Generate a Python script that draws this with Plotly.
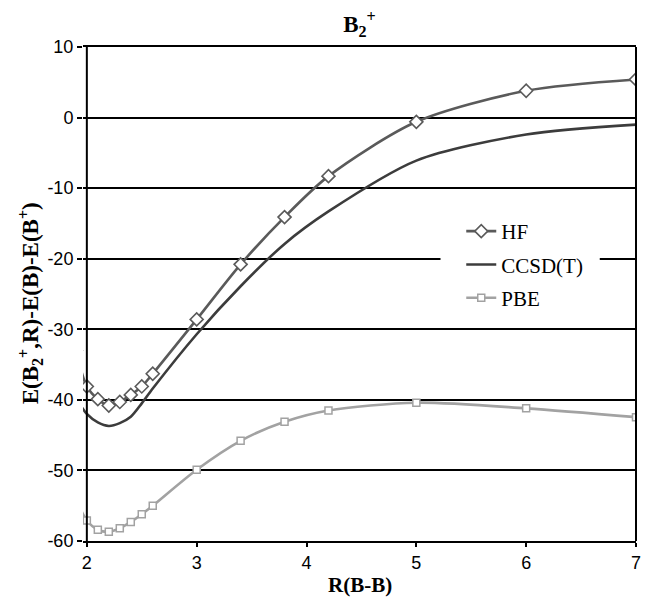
import plotly.graph_objects as go

# Bond length R(B-B) and relative energies for the three methods
r = [1.9, 2.0, 2.1, 2.2, 2.3, 2.4, 2.5, 2.6, 3.0, 3.4, 3.8, 4.2, 5.0, 6.0, 7.0]
hf = [-33.0, -38.1, -39.9, -40.8, -40.3, -39.3, -38.1, -36.3, -28.6, -20.8, -14.1, -8.3, -0.6, 3.8, 5.4]
ccsd_t = [-39.7, -42.0, -43.2, -43.7, -43.3, -42.4, -40.5, -38.4, -30.7, -23.9, -17.9, -13.3, -6.1, -2.4, -1.0]
pbe = [-54.0, -57.1, -58.4, -58.7, -58.2, -57.3, -56.2, -55.0, -49.9, -45.8, -43.1, -41.5, -40.4, -41.2, -42.45]

x_ticks = [2, 3, 4, 5, 6, 7]
y_ticks = [-60, -50, -40, -30, -20, -10, 0, 10]

SERIF = "Liberation Serif, Times New Roman, serif"
SANS = "Liberation Sans, Arial, sans-serif"

fig = go.Figure()

fig.add_trace(go.Scatter(
    x=r, y=hf, name="HF", mode="lines+markers",
    line=dict(color="#5a5a5a", width=2.6, shape="spline", smoothing=0.8),
    marker=dict(symbol="diamond", size=10, color="white",
                line=dict(color="#5a5a5a", width=1.6)),
    legendgroup="a",
))
fig.add_trace(go.Scatter(
    x=r, y=ccsd_t, name="CCSD(T)", mode="lines",
    line=dict(color="#3c3c3c", width=2.6, shape="spline", smoothing=0.8),
    legendgroup="b",
))
fig.add_trace(go.Scatter(
    x=r, y=pbe, name="PBE", mode="lines+markers",
    line=dict(color="#a2a2a2", width=2.6, shape="spline", smoothing=0.8),
    marker=dict(symbol="square", size=7, color="white",
                line=dict(color="#a2a2a2", width=1.5)),
    legendgroup="c",
))

shapes = [
    # white patch behind the legend, over the gridlines
    dict(type="rect", xref="x", yref="y", x0=5.22, x1=6.67, y0=-27.5, y1=-12.5,
         fillcolor="white", line=dict(width=0), layer="between"),
    # value axis drawn at R = 2
    dict(type="line", xref="x", yref="paper", x0=2, x1=2, y0=0, y1=1,
         line=dict(color="black", width=2)),
    # right frame edge
    dict(type="line", xref="paper", yref="paper", x0=1, x1=1, y0=0, y1=1,
         line=dict(color="black", width=2)),
]

fig.update_layout(
    width=647, height=598,
    margin=dict(l=83, r=6, t=47, b=57),
    paper_bgcolor="white", plot_bgcolor="white",
    title=dict(text="<b>B<sub>2</sub><sup>+</sup></b>", x=0.5, xref="paper",
               y=1 - 24 / 598, yref="container", yanchor="middle",
               font=dict(family=SERIF, size=23, color="black")),
    showlegend=True,
    legend=dict(x=0.684, y=0.668, xanchor="left", yanchor="top",
                bgcolor="rgba(0,0,0,0)", borderwidth=0,
                traceorder="grouped", tracegroupgap=3,
                font=dict(family=SERIF, size=21, color="black")),
    shapes=shapes,
    annotations=[
        dict(text="<b>R(B-B)</b>", xref="paper", yref="paper", x=0.5, y=0,
             yshift=-44, xanchor="center", yanchor="middle", showarrow=False,
             font=dict(family=SERIF, size=21, color="black")),
        dict(text="<b>E(B<sub>2</sub><sup>+</sup>,R)-E(B)-E(B<sup>+</sup>)</b>",
             xref="paper", yref="paper", x=-0.095, y=0.482, textangle=-90,
             xanchor="center", yanchor="middle", showarrow=False,
             font=dict(family=SERIF, size=23, color="black")),
    ],
)

fig.update_xaxes(
    range=[1.965, 7.0], tickvals=x_ticks, ticktext=[str(v) for v in x_ticks],
    showgrid=False, zeroline=False,
    showline=True, mirror=True, linecolor="black", linewidth=2,
    ticks="outside", ticklen=4, tickwidth=1.5, tickcolor="black",
    tickfont=dict(family=SANS, size=18, color="black"),
)
fig.update_yaxes(
    range=[-60, 10], tickvals=y_ticks, ticktext=[str(v) for v in y_ticks],
    showgrid=True, gridcolor="black", gridwidth=2, zeroline=False,
    showline=False,
    ticks="outside", ticklen=5, tickwidth=1.5, tickcolor="black",
    tickfont=dict(family=SANS, size=18, color="black"),
)

fig.write_html("out.html")
